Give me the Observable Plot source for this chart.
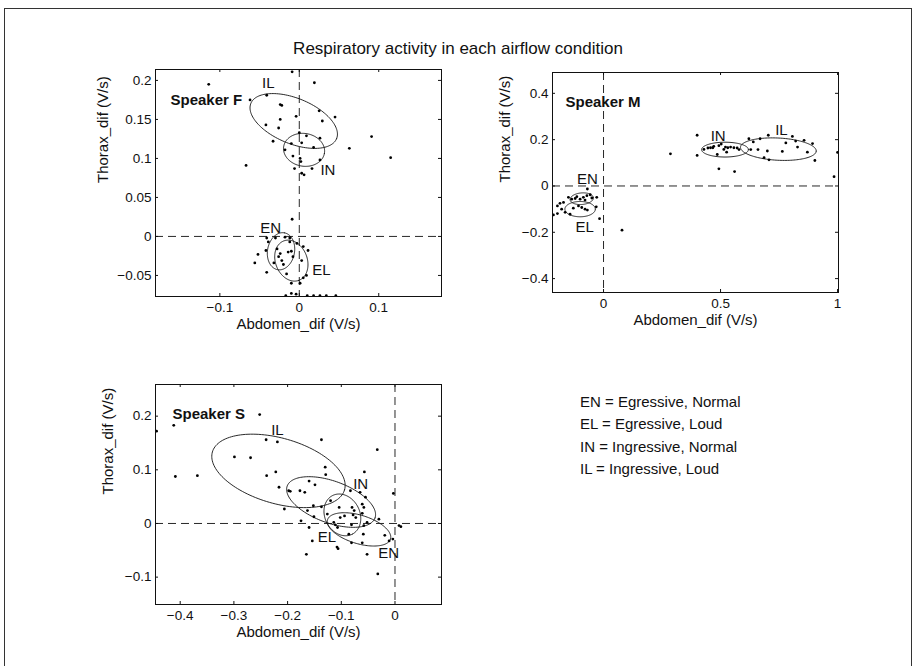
<!DOCTYPE html>
<html><head><meta charset="utf-8">
<script src="https://cdn.jsdelivr.net/npm/d3@7"></script>
<script src="https://cdn.jsdelivr.net/npm/@observablehq/plot@0.6"></script>
<style>
body{margin:0;background:#fff;font-family:"Liberation Sans",Arial,sans-serif;}
#page{position:relative;width:916px;height:666px;overflow:hidden;background:#fff;}
#border{position:absolute;left:4px;top:8px;width:906px;height:700px;border:1px solid #333;}
#title{position:absolute;left:0;top:38px;width:916px;text-align:center;font-size:17px;line-height:22px;color:#111;}
.panel{position:absolute;}
#legend{position:absolute;left:580px;top:391px;font-size:15px;line-height:22.4px;color:#111;white-space:nowrap;}
</style></head><body>
<div id="page">
  <div id="border"></div>
  <div id="title">Respiratory activity in each airflow condition</div>
  <div id="pF" class="panel"></div>
  <div id="pM" class="panel"></div>
  <div id="pS" class="panel"></div>
  <div id="legend"></div>
</div>
<script>
// ---------- data ----------
const conditions = ["EN", "EL", "IN", "IL"];
const legendLines = ["EN = Egressive, Normal", "EL = Egressive, Loud", "IN = Ingressive, Normal", "IL = Ingressive, Loud"];
const titleText = "Respiratory activity in each airflow condition";
const xAxisLabel = "Abdomen_dif (V/s)";
const yAxisLabel = "Thorax_dif (V/s)";

// Speaker F
const fXTicks = [-0.1, 0, 0.1];
const fYTicks = [-0.05, 0, 0.05, 0.1, 0.15, 0.2];
const fPoints = [
  [-0.009,0.211],[-0.114,0.195],[0.019,0.197],[-0.062,0.175],[-0.041,0.181],[-0.024,0.169],[-0.022,0.168],
  [0.025,0.161],[-0.024,0.150],[-0.004,0.154],[0.029,0.148],[0.045,0.153],[-0.042,0.143],[-0.026,0.139],
  [0.000,0.133],[-0.033,0.122],[-0.010,0.119],[0.003,0.120],[0.009,0.129],[0.026,0.126],[0.018,0.114],
  [-0.018,0.111],[-0.008,0.103],[0.001,0.100],[0.002,0.096],[0.026,0.098],[-0.006,0.087],[0.003,0.081],
  [0.006,0.079],[0.016,0.087],[-0.067,0.091],[0.063,0.113],[0.091,0.128],[0.115,0.101],
  [-0.009,0.022],[-0.041,-0.002],[-0.039,-0.007],[-0.030,-0.002],[-0.018,-0.001],[-0.012,-0.002],
  [-0.042,-0.018],[-0.052,-0.023],[-0.056,-0.034],[-0.041,-0.046],[-0.028,-0.016],[-0.026,-0.026],
  [-0.022,-0.031],[-0.020,-0.036],[-0.014,-0.020],[-0.010,-0.019],[-0.008,-0.026],[-0.016,-0.048],
  [-0.012,-0.007],[-0.003,-0.009],[0.005,-0.013],[0.011,-0.018],[0.003,-0.031],[0.005,-0.053],
  [0.009,-0.050],[-0.010,-0.060],[0.001,-0.060],[-0.010,-0.073],[-0.017,-0.076],[-0.004,-0.074],
  [0.010,-0.076],[0.018,-0.076],[0.026,-0.076],[0.034,-0.076],[0.046,-0.076],[-0.032,-0.034],[-0.024,-0.022]
];
const fCx = [-0.023, -0.010, 0.006, -0.007];
const fCy = [-0.019, -0.031, 0.111, 0.148];
const fA = [0.024, 0.027, 0.026, 0.0585];
const fB = [0.017, 0.020, 0.021, 0.029];
const fAngle = [80, -70, -10, -23];
const fLabelX = [-0.036, 0.028, 0.036, -0.039];
const fLabelY = [0.011, -0.043, 0.0855, 0.197];

// Speaker M
const mXTicks = [0, 0.5, 1];
const mYTicks = [-0.4, -0.2, 0, 0.2, 0.4];
const mPoints = [
  [0.40,0.219],[0.40,0.132],[0.286,0.139],[0.493,0.074],[0.56,0.062],[0.429,0.158],[0.446,0.164],
  [0.467,0.165],[0.471,0.171],[0.493,0.174],[0.503,0.181],[0.514,0.158],[0.521,0.168],[0.531,0.165],
  [0.543,0.168],[0.557,0.165],[0.571,0.164],[0.579,0.157],[0.526,0.146],[0.486,0.136],[0.457,0.165],
  [0.621,0.204],[0.64,0.19],[0.669,0.204],[0.704,0.219],[0.807,0.214],[0.821,0.194],[0.857,0.197],
  [0.779,0.186],[0.829,0.168],[0.893,0.183],[0.629,0.157],[0.66,0.157],[0.70,0.151],[0.764,0.149],
  [0.871,0.146],[0.686,0.122],[0.707,0.113],[0.903,0.110],[0.985,0.04],[1.0,0.145],
  [0.079,-0.191],[-0.017,-0.141],
  [-0.15,-0.049],[-0.136,-0.057],[-0.121,-0.054],[-0.114,-0.046],[-0.10,-0.057],[-0.086,-0.049],
  [-0.079,-0.061],[-0.071,-0.042],[-0.057,-0.038],[-0.05,-0.052],[-0.029,-0.049],[-0.069,-0.013],
  [-0.197,-0.086],[-0.186,-0.075],[-0.171,-0.071],[-0.179,-0.10],[-0.164,-0.114],[-0.143,-0.122],
  [-0.129,-0.096],[-0.107,-0.086],[-0.093,-0.093],[-0.079,-0.10],[-0.069,-0.104],[-0.031,-0.09],
  [-0.197,-0.119],[-0.214,-0.125]
];
const mCx = [-0.093, -0.10, 0.519, 0.747];
const mCy = [-0.055, -0.10, 0.157, 0.159];
const mA = [0.05, 0.065, 0.10, 0.162];
const mB = [0.025, 0.033, 0.032, 0.048];
const mAngle = [5, 0, 0, -3];
const mLabelX = [-0.069, -0.081, 0.49, 0.76];
const mLabelY = [0.028, -0.18, 0.216, 0.241];

// Speaker S
const sXTicks = [-0.4, -0.3, -0.2, -0.1, 0];
const sYTicks = [-0.1, 0, 0.1, 0.2];
const sPoints = [
  [-0.444,0.172],[-0.412,0.183],[-0.409,0.0875],[-0.368,0.089],[-0.252,0.203],[-0.299,0.124],[-0.269,0.1225],
  [-0.24,0.156],[-0.219,0.152],[-0.239,0.089],[-0.222,0.096],[-0.216,0.0675],[-0.137,0.156],[-0.13,0.105],
  [-0.129,0.091],[-0.033,0.1375],[-0.057,0.096],[-0.003,0.056],[-0.198,0.061],[-0.195,0.06],[-0.177,0.061],
  [-0.168,0.058],[-0.16,0.079],[-0.149,0.072],[-0.206,0.027],[-0.175,0.005],[-0.163,0.024],[-0.152,0.033],
  [-0.151,0.0125],[-0.16,-0.0075],[-0.154,-0.0325],[-0.165,-0.0575],[-0.137,0.031],[-0.12,0.0425],
  [-0.126,0.0175],[-0.114,0.002],[-0.111,-0.0025],[-0.107,-0.0075],[-0.108,-0.044],[-0.106,-0.047],
  [-0.102,0.011],[-0.094,0.014],[-0.104,0.03],[-0.083,0.061],[-0.08,0.03],[-0.076,0.024],[-0.078,0.016],
  [-0.073,0.011],[-0.081,-0.0025],[-0.086,-0.02],[-0.081,-0.036],[-0.065,0.058],[-0.061,0.036],
  [-0.058,0.03],[-0.055,0.049],[-0.061,0.019],[-0.058,-0.004],[-0.059,-0.02],[-0.052,-0.0575],
  [-0.061,-0.036],[-0.052,0.002],[-0.03,0.008],[-0.019,-0.022],[-0.011,-0.0325],[-0.004,-0.029],
  [-0.032,-0.094],[0.0075,-0.004],[0.011,-0.006]
];
const sCx = [-0.067, -0.098, -0.119, -0.217];
const sCy = [-0.011, 0.016, 0.040, 0.098];
const sA = [0.0613, 0.0404, 0.087, 0.128];
const sB = [0.0265, 0.0325, 0.039, 0.061];
const sAngle = [-17, -63, -20, -16];
const sLabelX = [-0.012, -0.127, -0.064, -0.219];
const sLabelY = [-0.056, -0.025, 0.074, 0.174];

// ---------- rendering ----------
const fmt = d => (d < 0 ? "\u2212" : "") + Math.abs(d);

function ellipseOutline(cx, cy, a, b, ang) {
  return conditions.flatMap((c, k) => {
    const th = ang[k] * Math.PI / 180;
    return d3.range(0, 145).map(i => {
      const t = i / 144 * 2 * Math.PI;
      return {
        id: c,
        x: cx[k] + a[k] * Math.cos(t) * Math.cos(th) - b[k] * Math.sin(t) * Math.sin(th),
        y: cy[k] + a[k] * Math.cos(t) * Math.sin(th) + b[k] * Math.sin(t) * Math.cos(th)
      };
    });
  });
}

function panel(cfg) {
  const mL = 70, mT = 10, mR = 12, mB = 45;
  const {el, left, top, w, h} = cfg;
  const labels = conditions.map((c, k) => ({c, x: cfg.lx[k], y: cfg.ly[k]}));
  const chart = Plot.plot({
    width: mL + w + mR, height: mT + h + mB,
    marginLeft: mL, marginTop: mT, marginRight: mR, marginBottom: mB,
    x: {domain: cfg.xDomain}, y: {domain: cfg.yDomain},
    style: {fontFamily: "Liberation Sans, Arial, sans-serif", fontSize: "13.5px", color: "#111", background: "transparent"},
    marks: [
      Plot.ruleX([0], {stroke: "#111", strokeWidth: 0.9, strokeDasharray: "8,5"}),
      Plot.ruleY([0], {stroke: "#111", strokeWidth: 0.9, strokeDasharray: "8,5"}),
      Plot.line(ellipseOutline(cfg.cx, cfg.cy, cfg.a, cfg.b, cfg.ang), {x: "x", y: "y", z: "id", stroke: "#111", strokeWidth: 0.9}),
      Plot.dot(cfg.points, {x: d => d[0], y: d => d[1], r: 1.4, fill: "#000", stroke: null}),
      Plot.text(labels, {x: "x", y: "y", text: "c", fontSize: 15, fill: "#111"}),
      Plot.tickX(cfg.xTicks, {x: d => d, insetTop: h - 3, stroke: "#111"}),
      Plot.tickX(cfg.xTicks, {x: d => d, insetBottom: h - 3, stroke: "#111"}),
      Plot.tickY(cfg.yTicks, {y: d => d, insetRight: w - 3, stroke: "#111"}),
      Plot.tickY(cfg.yTicks, {y: d => d, insetLeft: w - 3, stroke: "#111"}),
      Plot.axisX(cfg.xTicks, {tickSize: 0, tickPadding: 6, tickFormat: fmt, label: null, fontSize: 13.5}),
      Plot.axisY(cfg.yTicks, {tickSize: 0, tickPadding: 4, tickFormat: fmt, label: null, fontSize: 13.5}),
      Plot.frame({stroke: "#111", strokeWidth: 1}),
      Plot.text([xAxisLabel], {frameAnchor: "bottom", dy: 28, lineAnchor: "middle", fontSize: 15, fill: "#111"}),
      Plot.text([yAxisLabel], {frameAnchor: "left", dx: -cfg.yLabOff, rotate: -90, lineAnchor: "middle", fontSize: 15, fill: "#111"}),
      Plot.text([cfg.speaker], {frameAnchor: "top-left", dx: cfg.spDx, dy: cfg.spDy, textAnchor: "start", lineAnchor: "middle", fontWeight: "bold", fontSize: 15, fill: "#111"})
    ]
  });
  const div = document.getElementById(el);
  div.style.left = (left - mL) + "px";
  div.style.top = (top - mT) + "px";
  div.appendChild(chart);
}

panel({el: "pF", left: 155, top: 69, w: 286, h: 227, xDomain: [-0.181, 0.179], yDomain: [-0.077, 0.214],
  xTicks: fXTicks, yTicks: fYTicks, points: fPoints, cx: fCx, cy: fCy, a: fA, b: fB, ang: fAngle,
  lx: fLabelX, ly: fLabelY, speaker: "Speaker F", spDx: 15, spDy: 31, yLabOff: 52});
panel({el: "pM", left: 552, top: 72, w: 286, h: 220, xDomain: [-0.218, 1.004], yDomain: [-0.46, 0.49],
  xTicks: mXTicks, yTicks: mYTicks, points: mPoints, cx: mCx, cy: mCy, a: mA, b: mB, ang: mAngle,
  lx: mLabelX, ly: mLabelY, speaker: "Speaker M", spDx: 13, spDy: 30, yLabOff: 47});
panel({el: "pS", left: 155, top: 384, w: 286, h: 220, xDomain: [-0.446, 0.0866], yDomain: [-0.151, 0.259],
  xTicks: sXTicks, yTicks: sYTicks, points: sPoints, cx: sCx, cy: sCy, a: sA, b: sB, ang: sAngle,
  lx: sLabelX, ly: sLabelY, speaker: "Speaker S", spDx: 17, spDy: 30, yLabOff: 47});

document.getElementById("title").textContent = titleText;
document.getElementById("legend").innerHTML = legendLines.map(s => `<div>${s}</div>`).join("");
</script>
</body></html>
